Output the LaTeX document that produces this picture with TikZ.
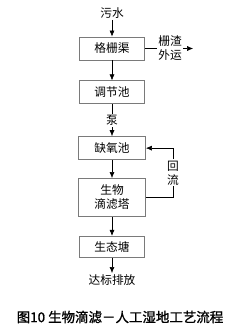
\documentclass[tikz,border=0pt]{standalone}
\usepackage{fontspec}
\setmainfont{Noto Sans CJK SC}
\newfontfamily\capfont[FakeBold=1.2]{Noto Sans CJK SC}
\usetikzlibrary{positioning,arrows.meta,calc}
\definecolor{boxgray}{HTML}{7A7A7A}

\begin{document}
\begin{tikzpicture}[font=\fontsize{10}{12}\selectfont, node distance=6mm,
  box/.style={draw=boxgray, line width=0.7pt, align=center, inner sep=1pt, minimum height=6.9mm, minimum width=19.5mm},
  lbl/.style={inner sep=1pt, align=center},
  arr/.style={-{Latex[length=1.8mm,width=1.5mm]}, line width=0.5pt}]
\useasboundingbox (0,0) rectangle (72mm,-99.6mm);
\node[lbl] (in) at (33.6mm,-3.9mm) {污水};
\node[box] (grid) at (33.6mm,-14.55mm) {格栅渠};
\node[box, below=6mm of grid] (tank) {调节池};
\node[lbl, below=3mm of tank] (pump) {泵};
\node[box, below=9.6mm of tank, minimum width=20.1mm] (anox) {缺氧池};
\node[box, below=5.4mm of anox, minimum width=20.1mm, minimum height=11.4mm] (bio) {生物\\滴滤塔};
\node[box, below=5.7mm of bio, minimum height=6.3mm] (pond) {生态塘};
\node[lbl, below=4.6mm of pond] (out) {达标排放};
\node[lbl, right=3.6mm of grid] (slag) {栅渣\\外运};
\coordinate[right=3mm of slag] (slagout);
\coordinate[right=8.1mm of bio.east] (r1);
\coordinate[right=8.1mm of anox.east] (r2);
\node[lbl] (back) at ($(r1)!0.5!(r2)$) {回\\流};
\node[font=\capfont\fontsize{11.5}{13}\selectfont] (cap) at (36mm,-95.1mm) {图10 生物滴滤－人工湿地工艺流程};
% main line
\draw[arr] (in) -- (grid);
\draw[arr] (grid) -- (tank);
\draw (tank) -- (pump);
\draw[arr] (pump) -- (anox);
\draw[arr] (anox) -- (bio);
\draw[arr] (bio) -- (pond);
\draw[arr] (pond) -- (out);
% side
\draw (grid) -- (slag);
\draw[arr] (slag) -- (slagout);
\draw (bio.east) -- (r1) -- (back.south);
\draw[arr] (back.north) -- (r2) -- (anox.east);
\end{tikzpicture}
\end{document}
